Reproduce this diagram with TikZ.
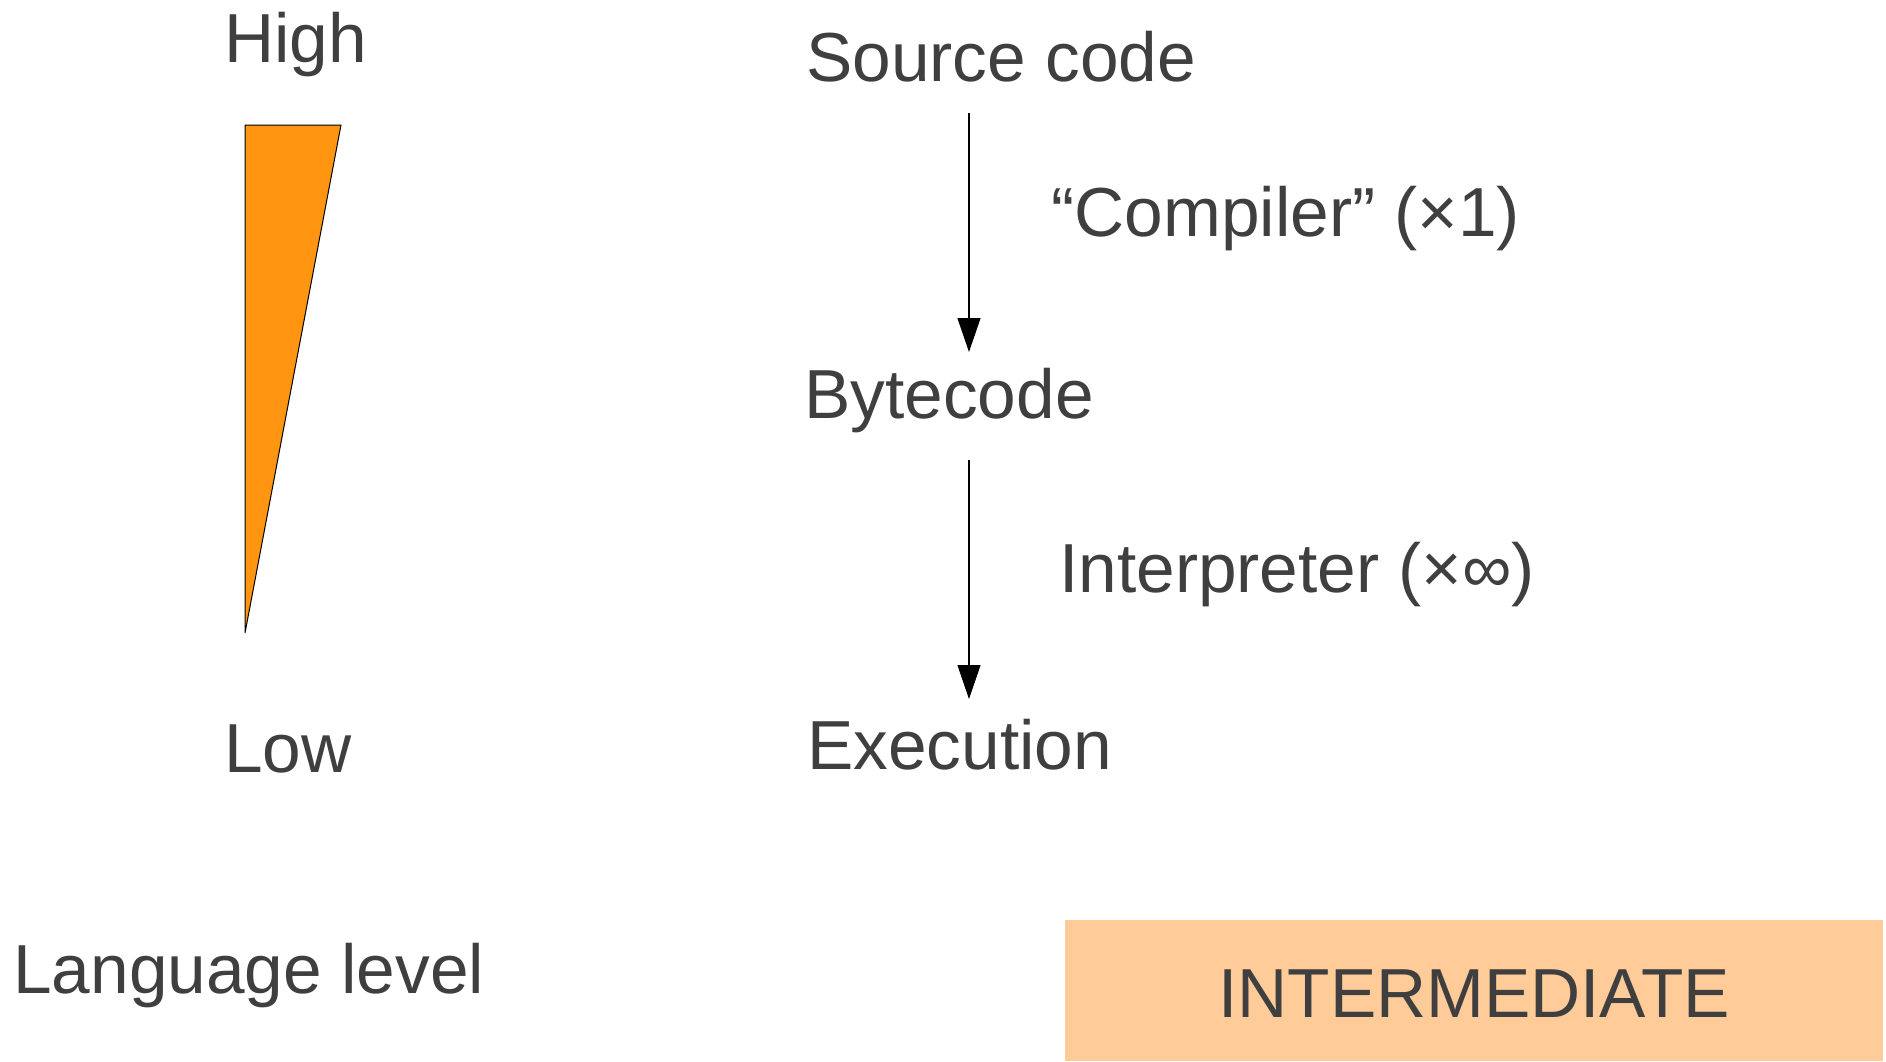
\documentclass[tikz,border=0pt]{standalone}
\usepackage{fontspec}
\setmainfont{Liberation Sans}
\usetikzlibrary{arrows.meta}
\definecolor{txt}{HTML}{3F3F3F}
\definecolor{wedge}{HTML}{FF9511}
\definecolor{boxfill}{HTML}{FFCC99}
\begin{document}
\begin{tikzpicture}[x=0.5pt,y=-0.5pt,
  lbl/.style={inner sep=0pt, anchor=base west, text=txt, font=\fontsize{34.7pt}{40pt}\selectfont},
  flow/.style={draw=black, line width=0.6pt, -{Triangle[length=17pt,width=11.5pt]}}]
\useasboundingbox (0,0) rectangle (1886,1061);
% wedge
\draw[fill=wedge, draw=black, line width=0.5pt] (245,125) -- (341,125) -- (245,633) -- cycle;
% labels
\node[lbl] (high) at (224,62) {High};
\node[lbl] (low) at (224,772) {Low};
\node[lbl] (lang) at (13,993) {Language level};
\node[lbl] (src) at (806,81) {Source code};
\node[lbl] (byte) at (804,418) {Bytecode};
\node[lbl] (exec) at (807,769) {Execution};
\node[lbl] (comp) at (1051,236) {“Compiler” (×1)};
\node[lbl] (interp) at (1059,592) {Interpreter (×∞)};
% arrows
\coordinate (a1s) at (969,113);
\coordinate (a1e) at (969,352);
\coordinate (a2s) at (969,460);
\coordinate (a2e) at (969,699);
\draw[flow] (a1s) -- (a1e);
\draw[flow] (a2s) -- (a2e);
% box
\fill[boxfill] (1065,920) rectangle (1883,1061);
\node[inner sep=0pt, anchor=base, text=txt, font=\fontsize{34.7pt}{40pt}\selectfont] (inter) at (1474,1017) {INTERMEDIATE};
\end{tikzpicture}
\end{document}
